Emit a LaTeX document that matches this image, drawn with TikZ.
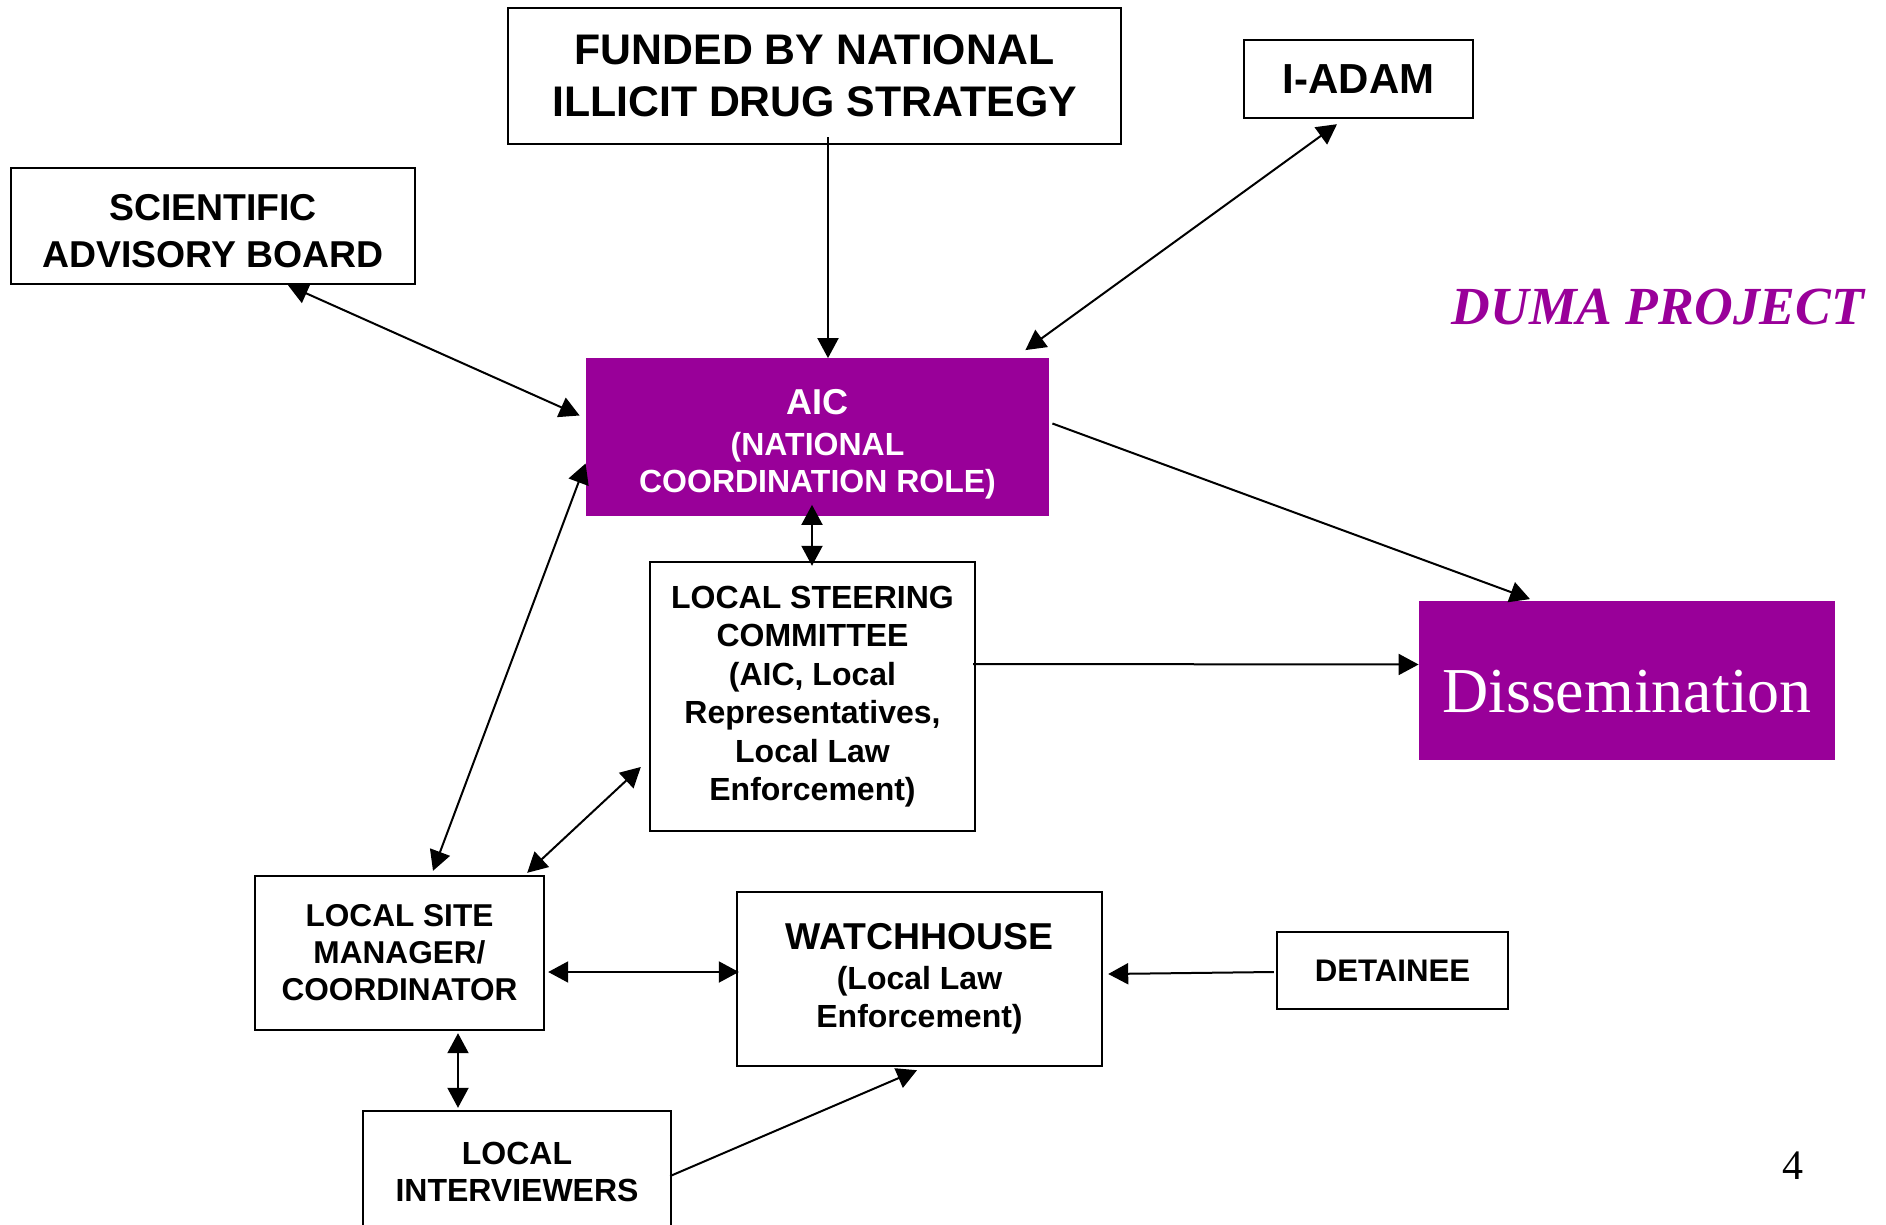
\documentclass[tikz,border=0pt]{standalone}
\usepackage{fontspec}
\setmainfont{Liberation Sans}
\newfontfamily\timesfont{Liberation Serif}
\usepackage{tikz}
\usetikzlibrary{positioning, arrows.meta, shapes}
\definecolor{dumapurple}{RGB}{153,0,153}

\tikzset{
	box/.style={draw, line width=1.2pt, align=center, inner sep=0pt},
	pbox/.style={fill=dumapurple, text=white, align=center, inner sep=0pt},
	link/.style={line width=1pt, {Triangle[length=10pt,width=10.5pt]}-{Triangle[length=10pt,width=10.5pt]}},
	onelink/.style={line width=1pt, -{Triangle[length=10pt,width=10.5pt]}}
}

\begin{document}
\begin{tikzpicture}[x=0.5pt, y=-0.5pt]
			\useasboundingbox (0,0) rectangle (1886,1225);
			
			% boxes
			\node[box, minimum width=306.5pt, minimum height=68pt, font={\fontsize{21.4}{26}\selectfont\bfseries}] (fund) at (814.5,76) {FUNDED BY NATIONAL\\ILLICIT DRUG STRATEGY};
			\node[box, minimum width=114.5pt, minimum height=39pt, font={\fontsize{21}{26}\selectfont\bfseries}] (iadam) at (1358.5,79) {I-ADAM};
			\node[box, minimum width=202pt, minimum height=58pt, font={\fontsize{18.7}{23.5}\selectfont\bfseries}] (sab) at (213,226) {\rule{0pt}{18.4pt}SCIENTIFIC\\ADVISORY BOARD};
			\node[pbox, minimum width=231.5pt, minimum height=78.5pt, font={\fontsize{16}{18.5}\selectfont\bfseries}] (aic) at (817.5,437) {{\fontsize{18}{21}\selectfont\rule{0pt}{20pt}AIC}\\[2pt](NATIONAL\\COORDINATION ROLE)};
			\node[box, minimum width=162.5pt, minimum height=134.5pt, font={\fontsize{16}{19.25}\selectfont\bfseries}] (lsc) at (812.5,696.5) {LOCAL STEERING\\COMMITTEE\\(AIC, Local\\Representatives,\\Local Law\\Enforcement)};
			\node[pbox, minimum width=208pt, minimum height=79.5pt, text height=33pt, font={\fontsize{32}{38}\selectfont\timesfont}] (diss) at (1627,680) {Dissemination};
			\node[box, minimum width=144.5pt, minimum height=77pt, font={\fontsize{15.8}{18.5}\selectfont\bfseries}] (lsm) at (399.5,953) {LOCAL SITE\\MANAGER/\\COORDINATOR};
			\node[box, minimum width=182.5pt, minimum height=87pt, text depth=4pt, font={\fontsize{16}{19}\selectfont\bfseries}] (wh) at (919.5,979) {{\fontsize{18.7}{21}\selectfont WATCHHOUSE}\\[1pt](Local Law\\Enforcement)};
			\node[box, minimum width=115.5pt, minimum height=38.5pt, font={\fontsize{15.6}{18.5}\selectfont\bfseries}] (det) at (1392.5,970.5) {DETAINEE};
			\node[box, minimum width=154pt, minimum height=61pt, font={\fontsize{16}{18.5}\selectfont\bfseries}] (lint) at (517,1172) {LOCAL\\INTERVIEWERS};
			
			% labels
			\node[text=dumapurple, font={\fontsize{26.8}{30}\selectfont\timesfont\bfseries\itshape}] (duma) at (1658,307) {DUMA PROJECT};
			\node[font={\fontsize{21}{25}\selectfont\timesfont}] (page) at (1793,1166) {4};
			
			% connectors
			\draw[onelink] ([shift={(13.5,-8)}]fund.south) -- ([shift={(10.5,0)}]aic.north);
			\draw[link] ([shift={(-21.5,5)}]iadam.south) -- ([shift={(-24,-8)}]aic.north east);
			\draw[link] ([shift={(75,0)}]sab.south) -- ([shift={(-6,-21.5)}]aic.west);
			\draw[link] ([shift={(0,26.5)}]aic.west) -- ([shift={(33.5,-4)}]lsm.north);
			\draw[link] ([shift={(-5.5,-11)}]aic.south) -- ([shift={(-0.5,5)}]lsc.north);
			\draw[onelink] ([shift={(3,-13.5)}]aic.east) -- ([shift={(-97,-1)}]diss.north);
			\draw[onelink] ([shift={(-3,-32.5)}]lsc.east) -- ([shift={(0,-15.5)}]diss.west);
			\draw[link] ([shift={(-8,70.5)}]lsc.west) -- ([shift={(-18,-2)}]lsm.north east);
			\draw[link] ([shift={(3,19)}]lsm.east) -- ([shift={(3,-7)}]wh.west);
			\draw[onelink] ([shift={(-2,1.5)}]det.west) -- ([shift={(5,-5)}]wh.east);
			\draw[link] ([shift={(58.5,2)}]lsm.south) -- ([shift={(-59,-2)}]lint.north);
			\draw[onelink] ([shift={(-2,4)}]lint.east) -- ([shift={(-2.5,3)}]wh.south);
			
		\end{tikzpicture}
\end{document}
